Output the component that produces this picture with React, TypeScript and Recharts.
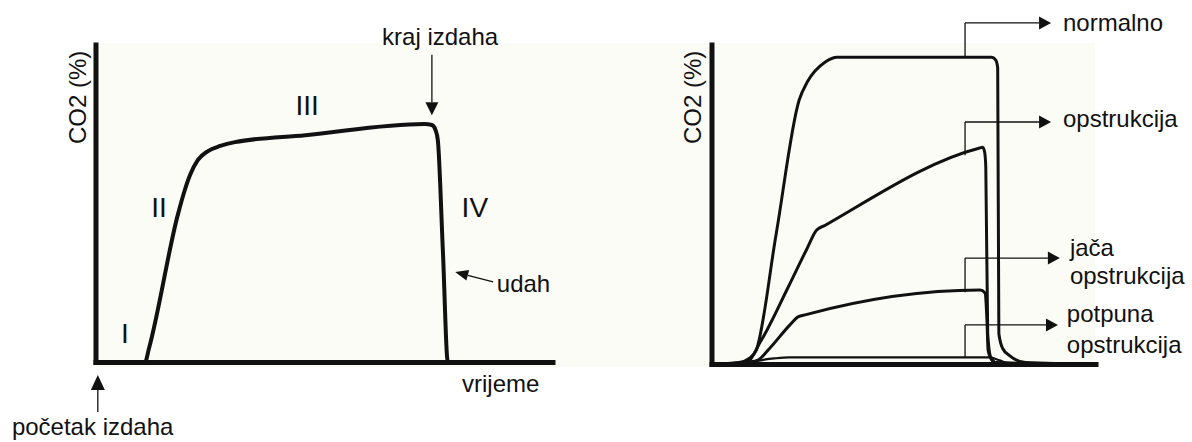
import { LineChart, Line, XAxis, YAxis, ReferenceLine, ReferenceDot } from 'recharts';

// Left panel: one normal capnogram (time in % of the axis, CO2 in % of the axis)
const capnoTime = [0, 10.7, 11.6, 17.9, 19.3, 20.6, 22.3, 24.5, 27.2, 30.4, 45.8, 71.9, 73.5, 74.3, 74.8, 75.9, 77.0, 100];
const capnoCo2 = [0, 0, 4.5, 46.5, 53.7, 59.1, 63.8, 66.6, 68.2, 69.4, 71.6, 75.1, 74.8, 73.2, 70.0, 35.3, 0, 0];

// Right panel: four curves, from normal to complete obstruction
const normalTime = [0, 7.0, 9.7, 11.5, 16.7, 22.7, 24.8, 29.5, 32.6, 72.8, 73.9, 74.4, 74.7, 75.7, 77.5, 81.7, 100];
const normalCo2 = [0, 0.6, 1.9, 4.4, 40.8, 82.8, 88.4, 94.7, 96.2, 96.2, 95.3, 92.8, 9.7, 5.0, 2.8, 0.6, 0];

const obstrTime = [0, 8.9, 12.8, 19.8, 24.8, 27.2, 29.5, 69.5, 70.5, 71.0, 71.3, 71.8, 72.6, 73.9, 100];
const obstrCo2 = [0, 0.6, 7.5, 24.1, 36.4, 42.0, 43.6, 67.7, 68.0, 66.5, 61.8, 9.7, 2.2, 0.6, 0];

const severeTime = [0, 9.9, 12.0, 14.6, 20.3, 22.4, 24.5, 69.8, 71.1, 71.6, 71.9, 72.9, 75.0, 100];
const severeCo2 = [0, 0.8, 1.4, 4.5, 12.4, 14.9, 15.6, 23.3, 22.4, 13.9, 4.5, 1.4, 0, 0];

const completeTime = [0, 7.0, 16.2, 20.1, 72.3, 74.9, 77.5, 100];
const completeCo2 = [0, 0.3, 1.9, 2.2, 2.2, 1.3, 0.3, 0];

const phaseLabels = ['I', 'II', 'III', 'IV'];
const curveNames = ['normalno', 'opstrukcija', 'jača opstrukcija', 'potpuna opstrukcija'];

const FONT = '"Liberation Sans", Arial, Helvetica, sans-serif';
const INK = '#111';

const toPoints = (ts: number[], vs: number[]) => ts.map((t, i) => ({ t, v: vs[i] }));

// linear read of a curve at time t, used to hook the leader lines onto it
function valueAt(ts: number[], vs: number[], t: number) {
  for (let i = 1; i < ts.length; i++) {
    if (t <= ts[i]) {
      const k = (t - ts[i - 1]) / (ts[i] - ts[i - 1]);
      return vs[i - 1] + k * (vs[i] - vs[i - 1]);
    }
  }
  return vs[vs.length - 1];
}

function Arrow(props: any) {
  const { x1, y1, x2, y2, head = 12, half = 6, width = 1.4 } = props;
  const dx = x2 - x1;
  const dy = y2 - y1;
  const len = Math.hypot(dx, dy) || 1;
  const ux = dx / len;
  const uy = dy / len;
  const bx = x2 - ux * head;
  const by = y2 - uy * head;
  const px = -uy * half;
  const py = ux * half;
  return (
    <g>
      <line x1={x1} y1={y1} x2={bx} y2={by} stroke={INK} strokeWidth={width} />
      <polygon points={`${x2},${y2} ${bx + px},${by + py} ${bx - px},${by - py}`} fill={INK} />
    </g>
  );
}

const textAt =
  (text: string, size = 24, anchor: 'start' | 'middle' = 'start', central = false, rotate = false) =>
  (p: any) => (
    <text
      x={p.cx}
      y={p.cy}
      fill={INK}
      fontFamily={FONT}
      fontSize={size}
      textAnchor={anchor}
      dominantBaseline={central ? 'central' : 'alphabetic'}
      transform={rotate ? `rotate(-90 ${p.cx} ${p.cy})` : undefined}
    >
      {text}
    </text>
  );

// hidden axes give the scales; the heavy axis strokes are drawn as reference lines
function Axes() {
  return [
    <XAxis key="x" type="number" dataKey="t" domain={[0, 100]} allowDataOverflow hide />,
    <YAxis key="y" type="number" domain={[0, 100]} allowDataOverflow hide />,
    <ReferenceLine key="ax" x={0} stroke={INK} strokeWidth={5} strokeLinecap="square" ifOverflow="visible" />,
    <ReferenceLine key="ay" y={0} stroke={INK} strokeWidth={5} strokeLinecap="square" ifOverflow="visible" />,
  ];
}

function CapnogramPanel() {
  const data = toPoints(capnoTime, capnoCo2);
  const numeralSpots = [
    { t: 6.3, v: 9.0 },
    { t: 13.8, v: 48.7 },
    { t: 46.2, v: 80.8 },
    { t: 82.9, v: 48.7 },
  ];
  return (
    <LineChart width={600} height={442} margin={{ top: 45, right: 47, bottom: 79.5, left: 96 }}>
      {Axes()}
      <Line data={data} dataKey="v" type="monotone" stroke={INK} strokeWidth={4} dot={false} activeDot={false} isAnimationActive={false} />

      <ReferenceDot x={-2.2} y={83.5} ifOverflow="visible" shape={textAt('CO2 (%)', 24, 'middle', false, true)} />
      {phaseLabels.map((lab, i) => (
        <ReferenceDot key={lab} x={numeralSpots[i].t} y={numeralSpots[i].v} ifOverflow="visible" shape={textAt(lab, 28, 'middle', true)} />
      ))}

      <ReferenceDot x={62.6} y={100} ifOverflow="visible" shape={textAt('kraj izdaha')} />
      <ReferenceLine segment={[{ x: 73.5, y: 96.9 }, { x: 73.5, y: 77.9 }]} ifOverflow="visible" shape={(p: any) => <Arrow {...p} head={13} half={6.5} width={1.3} />} />

      <ReferenceDot x={87.7} y={22.2} ifOverflow="visible" shape={textAt('udah')} />
      <ReferenceLine segment={[{ x: 86.9, y: 25.4 }, { x: 78.6, y: 28.5 }]} ifOverflow="visible" shape={(p: any) => <Arrow {...p} head={13} half={5.5} width={1.3} />} />

      <ReferenceDot x={80.1} y={-9.3} ifOverflow="visible" shape={textAt('vrijeme')} />

      <ReferenceDot x={-18.4} y={-22.8} ifOverflow="visible" shape={textAt('početak izdaha')} />
      <ReferenceLine segment={[{ x: 0.4, y: -15.6 }, { x: 0.4, y: -3.9 }]} ifOverflow="visible" shape={(p: any) => <Arrow {...p} head={15} half={7} width={1.3} />} />
    </LineChart>
  );
}

function ObstructionPanel() {
  const series = [
    { ts: normalTime, vs: normalCo2 },
    { ts: obstrTime, vs: obstrCo2 },
    { ts: severeTime, vs: severeCo2 },
    { ts: completeTime, vs: completeCo2 },
  ];
  const hookAt = 65.9;
  const leaders = [
    { level: 106.9, tip: 88.3, lines: [{ t: 91.4, v: 104.4 }] },
    { level: 75.9, tip: 88.3, lines: [{ t: 91.4, v: 74.3 }] },
    { level: 33.3, tip: 90.6, lines: [{ t: 93.2, v: 34.0 }, { t: 93.2, v: 25.2 }] },
    { level: 12.4, tip: 90.1, lines: [{ t: 92.4, v: 13.3 }, { t: 92.4, v: 3.6 }] },
  ];
  return (
    <LineChart width={592} height={442} margin={{ top: 45, right: 96, bottom: 77.5, left: 112 }}>
      {Axes()}
      {series.map((s, i) => (
        <Line
          key={curveNames[i]}
          data={toPoints(s.ts, s.vs)}
          dataKey="v"
          type="monotone"
          stroke={INK}
          strokeWidth={i === 3 ? 2.2 : 3}
          dot={false}
          activeDot={false}
          isAnimationActive={false}
        />
      ))}

      <ReferenceDot x={-2.9} y={83.6} ifOverflow="visible" shape={textAt('CO2 (%)', 24, 'middle', false, true)} />

      {leaders.map((l, i) => {
        const words = i < 2 ? [curveNames[i]] : curveNames[i].split(' ');
        return [
          <ReferenceLine
            key={`v${i}`}
            segment={[{ x: hookAt, y: valueAt(series[i].ts, series[i].vs, hookAt) }, { x: hookAt, y: l.level }]}
            ifOverflow="visible"
            stroke={INK}
            strokeWidth={1.3}
          />,
          <ReferenceLine
            key={`h${i}`}
            segment={[{ x: hookAt, y: l.level }, { x: l.tip, y: l.level }]}
            ifOverflow="visible"
            shape={(p: any) => <Arrow {...p} head={12} half={6.5} width={1.3} />}
          />,
          ...words.map((w, j) => (
            <ReferenceDot key={`t${i}${j}`} x={l.lines[j].t} y={l.lines[j].v} ifOverflow="visible" shape={textAt(w)} />
          )),
        ];
      })}
    </LineChart>
  );
}

export default function App() {
  return (
    <div style={{ position: 'absolute', left: 0, top: 0, width: 1192, height: 442, background: '#fff', overflow: 'hidden' }}>
      <div style={{ position: 'absolute', left: 92, top: 43, width: 1003, height: 324, background: '#fcfcf6' }} />
      <div style={{ position: 'absolute', left: 0, top: 0 }}>
        <CapnogramPanel />
      </div>
      <div style={{ position: 'absolute', left: 600, top: 0 }}>
        <ObstructionPanel />
      </div>
    </div>
  );
}
